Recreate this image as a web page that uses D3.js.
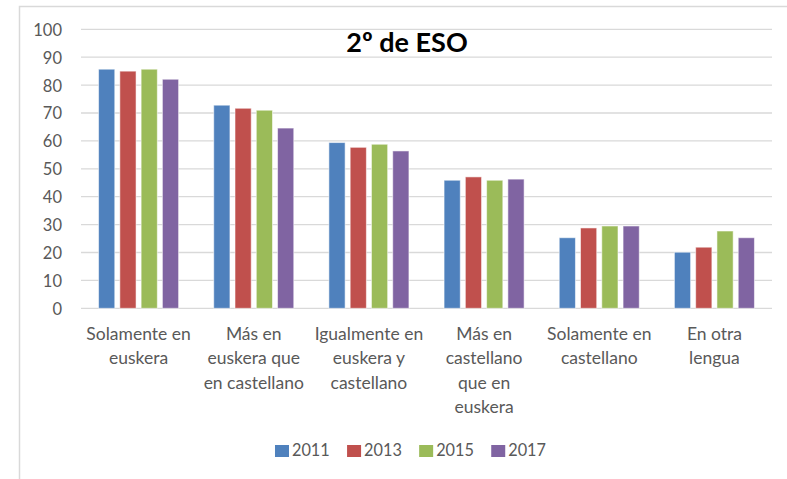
<!DOCTYPE html>
<html>
<head>
<meta charset="utf-8">
<script src="https://cdn.jsdelivr.net/npm/d3@7/dist/d3.min.js"></script>
<style>
  html, body { margin: 0; padding: 0; background: #fff; }
  svg { display: block; font-family: Lato, "Open Sans", sans-serif; }
</style>
</head>
<body>
<svg id="chart" width="787" height="479"></svg>
<script>
const title = "2º de ESO";
const categories = [
  "Solamente en|euskera",
  "Más en|euskera que|en castellano",
  "Igualmente en|euskera y|castellano",
  "Más en|castellano|que en|euskera",
  "Solamente en|castellano",
  "En otra|lengua"
];
const years = ["2011", "2013", "2015", "2017"];
const values2011 = [85.7, 72.8, 59.4, 45.9, 25.3, 20.1];
const values2013 = [85.0, 71.7, 57.7, 47.1, 28.8, 21.9];
const values2015 = [85.7, 71.0, 58.8, 45.9, 29.5, 27.7];
const values2017 = [82.1, 64.6, 56.4, 46.3, 29.5, 25.3];
const yTicks = [0, 10, 20, 30, 40, 50, 60, 70, 80, 90, 100];
const colors = ["#4f81bd", "#c0504d", "#9bbb59", "#8064a2"];

const seriesValues = [values2011, values2013, values2015, values2017];
const svg = d3.select("#chart");

// chart border (cropped at right and bottom)
svg.append("path")
  .attr("d", "M19.5,480 L19.5,6.5 L790,6.5")
  .attr("fill", "none").attr("stroke", "#d9d9d9").attr("stroke-width", 1.5);

const plot = { left: 81, right: 772, top: 29.3, bottom: 308.3 };

const y = d3.scaleLinear().domain([0, 100]).range([plot.bottom, plot.top]);
const x0 = d3.scaleBand().domain(categories).range([plot.left, plot.right])
  .paddingInner(0.305).paddingOuter(0.1525);
const x1 = d3.scaleBand().domain(years).range([0, x0.bandwidth()])
  .paddingInner(0.238).paddingOuter(0);
const color = d3.scaleOrdinal().domain(years).range(colors);

// gridlines
svg.append("g").selectAll("line").data(yTicks).join("line")
  .attr("x1", plot.left).attr("x2", plot.right)
  .attr("y1", d => y(d)).attr("y2", d => y(d))
  .attr("stroke", "#d9d9d9").attr("stroke-width", 1.3);

// y axis labels
const yAxis = d3.axisLeft(y).tickValues(yTicks).tickSize(0).tickPadding(0);
const gy = svg.append("g").attr("transform", `translate(62,0)`).call(yAxis);
gy.select(".domain").remove();
gy.selectAll("text").attr("fill", "#595959").style("font-size", "16.5px")
  .style("font-family", "Lato, sans-serif").attr("dy", "0.36em");

// bars
const groups = svg.append("g").selectAll("g").data(categories).join("g")
  .attr("transform", d => `translate(${x0(d)},0)`);
groups.selectAll("rect")
  .data((d, i) => years.map((yr, j) => ({ yr, v: seriesValues[j][i] })))
  .join("rect")
  .attr("x", d => x1(d.yr))
  .attr("width", x1.bandwidth())
  .attr("y", d => y(d.v))
  .attr("height", d => y(0) - y(d.v))
  .attr("fill", d => color(d.yr))
  .attr("stroke", "rgba(255,255,255,0.55)").attr("stroke-width", 1);

// category labels
const catG = svg.append("g");
categories.forEach(c => {
  const lines = c.split("|");
  const t = catG.append("text")
    .attr("x", x0(c) + x0.bandwidth() / 2)
    .attr("y", 340)
    .attr("text-anchor", "middle")
    .attr("fill", "#595959")
    .style("font-size", "17.5px");
  lines.forEach((ln, i) => {
    t.append("tspan").attr("x", x0(c) + x0.bandwidth() / 2)
      .attr("dy", i === 0 ? 0 : 24.3).text(ln);
  });
});

// title
svg.append("text").attr("x", 407).attr("y", 52.3)
  .attr("text-anchor", "middle").attr("fill", "#000")
  .style("font-size", "27px").style("font-weight", "bold")
  .text(title);

// legend
const legend = svg.append("g");
const items = [];
years.forEach((yr, i) => {
  const g = legend.append("g");
  g.append("rect").attr("x", 0).attr("y", 445).attr("width", 14).attr("height", 12)
    .attr("fill", color(yr));
  const t = g.append("text").attr("x", 17).attr("y", 456.3)
    .attr("fill", "#595959").style("font-size", "16.3px").text(yr);
  const w = 17 + t.node().getComputedTextLength();
  items.push({ g, w });
});
const gap = 17.3;
const totalW = d3.sum(items, d => d.w) + gap * (items.length - 1);
let cx = 410.5 - totalW / 2;
items.forEach(it => {
  it.g.attr("transform", `translate(${cx},0)`);
  cx += it.w + gap;
});
</script>
</body>
</html>
